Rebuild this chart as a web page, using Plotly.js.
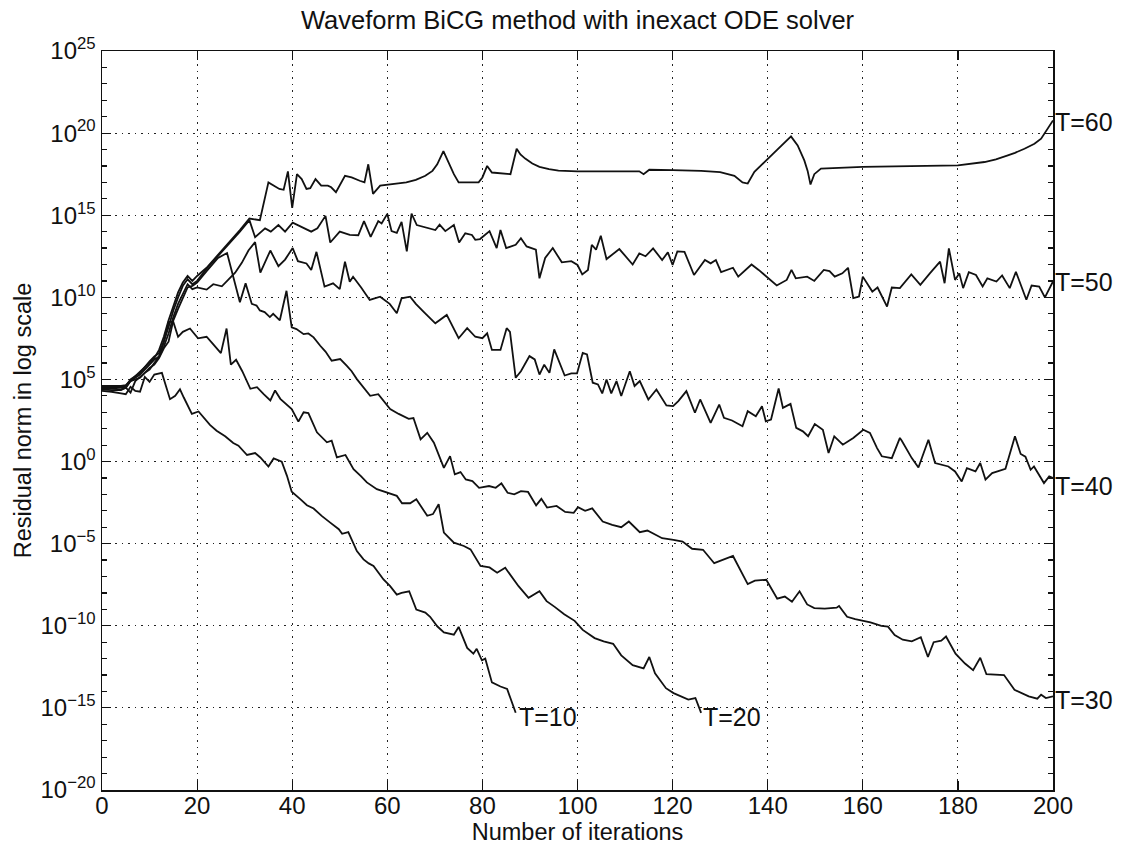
<!DOCTYPE html>
<html>
<head>
<meta charset="utf-8">
<script src="https://cdn.plot.ly/plotly-3.0.1.min.js"></script>
<style>html,body{margin:0;padding:0;background:#fff;}#chart{width:1123px;height:854px;}</style>
</head>
<body>
<div id="chart"></div>
<script>
// ---- data: iteration number (x) and log10 of residual norm (e) ----
const t10x = [0,2,4,5,6,7,8,9,10,11,12.6,13.5,14.3,15.4,16.4,17.2,18.9,20.3,21.3,22.7,24.1,25.9,27.6,28.7,30.5,32.2,33.3,35,36.1,37.8,38.9,39.9,41.7,43.1,44.5,46.2,48,49.8,50.5,51.8,53.6,55,56.1,57.1,59.2,60.6,62,63,64.6,66.1,68,69,70.5,71.9,74,75,76.8,78.1,78.8,79.9,80.6,82,83.8,85.2,87];
const t10e = [4.3,4.25,4.15,4.1,4.55,4.3,4.25,5.15,4.85,5.3,5.4,4.5,3.8,4.0,4.4,3.9,2.9,3.05,2.7,2.23,1.88,1.54,1.13,0.97,0.4,0.52,0.25,-0.3,0.19,-0.01,-0.87,-1.84,-2.29,-2.66,-2.86,-3.31,-3.72,-4.12,-4.4,-4.3,-5.45,-5.96,-6.2,-6.36,-7.18,-7.59,-8.1,-8.0,-7.9,-9.01,-9.2,-9.45,-10.03,-10.4,-10.54,-10.07,-11.35,-11.7,-11.4,-12.1,-12.0,-13.45,-13.7,-13.85,-15.3];

const t20x = [0,2,4,5,6,7,9,10,11,12,13,14,15,16,17,18.5,20.2,22,23.5,25,26.2,27.1,28.2,29.5,31.2,32.6,34,35.4,36.4,37.5,39.9,41.3,42.4,43.4,45.2,47.3,48.3,49.4,51.2,52.9,54.5,55.7,57.8,59.9,62,63.1,64.8,66.1,68.4,69.6,70.8,71.9,74,76.1,77.5,79.6,81.5,83.1,84.8,87.6,89.7,92,93.5,95.2,97.2,99.4,101.1,103.6,105.5,107.5,109.2,111.6,113.9,115.1,116.3,118.6,120.2,123.3,124.8,126];
const t20e = [4.4,4.35,4.35,4.5,4.2,4.9,5.4,5.6,6.0,6.4,7.3,8.5,8.5,7.6,7.9,8.1,7.5,7.6,7.1,6.6,8.1,5.9,6.2,5.5,4.43,4.53,4.1,3.72,4.33,3.82,3.2,2.43,3.0,2.95,1.78,1.17,1.27,0.25,0.4,-0.46,-0.9,-1.27,-1.68,-1.88,-2.09,-2.54,-2.54,-2.3,-3.3,-3.2,-2.6,-4.33,-4.94,-5.14,-5.35,-6.36,-6.45,-6.77,-6.47,-7.59,-8.3,-7.9,-8.5,-8.85,-9.3,-9.7,-10.25,-10.75,-10.95,-11.1,-11.8,-12.4,-12.6,-11.9,-12.9,-13.8,-14.1,-14.5,-14.4,-15.3];

const t30x = [0,2,4,5,6,8,10,11,12,13,14,15,16,17,18,19,20,22,24.4,26.3,27.5,29,30.2,31.5,32.5,33.2,34.2,35.3,36,37.4,38.8,39.9,40.9,42.4,43.4,44.5,45.9,47,48.3,50.1,51.5,52.5,53.6,55.3,56.4,58.1,59.3,60.6,62.4,64.5,65.5,67,68.4,69.8,71.9,73.2,74.2,75.4,76.5,77.9,79.3,81.4,82.8,84,85.3,86.7,88.1,89.6,91.3,92.4,93.6,95.6,97.4,99.2,100.1,101.6,103.1,105.3,107.3,109.2,110.8,113.1,114.7,117.8,120.2,122.1,124.1,126.4,128.75,131.1,132.7,135.8,137.3,139.7,142,143.6,145.1,146.7,148.3,149.8,152,154.5,155,156.7,158.4,161.6,163.9,165.3,166.7,168.4,170.3,172.2,173.7,174.9,176.5,177.5,179.5,181.5,183.2,184.7,186,189.7,191.9,194.9,196.7,197.5,198.5,200];
const t30e = [4.45,4.45,4.4,4.5,4.9,5.1,5.7,5.9,6.3,6.9,7.3,8.6,9.3,10.0,10.6,10.7,10.9,11.6,12.4,12.7,11.3,9.7,10.85,9.6,9.5,9.2,9.1,8.8,9.0,8.6,10.4,8.17,8.07,7.76,7.8,7.56,7.05,6.7,6.14,6.24,5.83,5.5,5.02,4.4,4.0,4.1,3.7,3.2,2.9,2.6,2.65,1.35,1.75,1.15,-0.38,0.33,-0.78,-0.64,-1.09,-1.19,-1.6,-1.49,-1.6,-1.33,-1.9,-2.0,-1.8,-1.85,-2.67,-2.27,-2.8,-2.7,-3.07,-3.12,-2.78,-3.0,-2.85,-3.65,-3.85,-4.0,-3.65,-4.3,-4.2,-4.67,-4.77,-4.87,-5.31,-5.37,-6.19,-5.9,-5.75,-7.46,-7.25,-7.2,-8.35,-8.22,-8.54,-7.9,-8.7,-8.92,-8.95,-8.9,-8.8,-9.45,-9.6,-9.8,-10.0,-10.05,-10.57,-10.85,-10.95,-10.7,-11.9,-11.0,-10.9,-10.65,-11.7,-12.3,-12.7,-11.95,-12.95,-13.0,-13.9,-14.3,-14.44,-14.2,-14.4,-14.3];

const t40x = [0,2,4,5,6,8,10,11,12,13,14,15,16,17,18,19,20,22,23.4,25.2,28,29.4,30.8,32.2,33.3,35.4,37.1,38.5,40.1,41.2,43,44,45.1,46.8,48.6,50,51.1,52.1,52.8,54.5,56.3,58.5,60.5,62,63,64.8,66,67.6,70.1,72.5,75,76.8,78.5,80,81,82,83.8,85.1,85.8,87,88.1,89.9,91,92,93,94.1,95.1,97.3,98.7,99.9,101.1,102,103.2,104.3,105.2,106.1,107.1,108.2,109.2,111,112,113.1,114.9,116.6,118.7,120.1,121.2,122.9,124.7,125.8,128,129.8,130.8,132.5,134.7,135.8,137.5,138.8,139.6,140.7,142.3,143.2,144.8,146,147.4,148.5,149.9,151.6,152.8,154,155.8,158,160.1,161.5,163,164,166.1,167.8,168.2,170.3,171.7,173.8,175.2,178,179.4,180.8,181.9,183.7,184.7,185.8,187.2,190,192,193.2,194.2,195.3,196,198.1,199.2,200];
const t40e = [4.5,4.55,4.5,4.5,4.9,5.3,5.9,6.2,6.4,7.0,7.8,8.8,9.6,10.2,10.8,10.5,10.6,10.47,10.8,10.67,11.5,12.1,12.85,13.36,11.5,12.85,11.9,12.3,13.0,12.2,12.06,11.66,12.77,10.65,10.85,10.5,12.17,10.95,11.25,10.6,9.84,10.04,9.6,9.03,9.94,10.04,9.6,9.13,8.42,8.93,7.51,8.12,7.6,7.51,7.81,6.8,6.8,8.12,7.9,5.1,5.5,6.42,6.22,5.3,5.9,5.4,6.83,5.24,5.37,5.37,6.62,6.52,4.8,4.7,4.15,5.0,4.15,4.9,3.99,5.5,4.6,4.9,3.78,4.39,3.42,3.38,3.68,4.29,2.97,3.78,2.35,3.47,2.66,2.5,2.15,3.07,2.76,3.37,2.45,2.56,4.45,3.27,3.51,2.05,1.84,1.54,2.29,1.94,0.52,1.54,1.03,1.44,1.94,1.74,0.82,0.32,0.21,1.44,1.27,0.21,-0.36,1.33,-0.09,-0.3,-0.6,-1.21,-0.4,-0.6,-0.09,-1.1,-0.7,-0.44,1.54,0.46,0.3,-0.5,-0.3,-1.31,-0.9,-1.0];

const t50x = [0,2,4,5,6,8,10,11,12,13,14,15,16,17,18,19,20,22,24.5,27,29,31,32.2,34.3,35.5,37.1,38.5,40.1,41.9,44,45.3,47,48,50,52.1,53.9,55.1,56.5,58.1,58.8,60,60.9,62,63,64.1,65.1,66.2,68.3,70.1,71,72.2,74,75.1,76.4,77.8,78.5,79.5,81.5,83,83.8,85,87,88.1,89.3,91.25,92,93.2,94.8,96.7,98.7,100,101,102.2,103,103.9,104.9,106.1,108.8,111.6,113,114.3,115.9,117.8,119,120,121,122.5,124.5,126.8,128,129.1,130.2,132.7,133.8,136.6,138.1,140.1,141.9,144,145,145.9,148.3,149.8,151.8,153,154.1,155.7,156.9,158,159.2,160,162,163.1,165.1,166.1,167.8,170.2,172.1,174.1,176.25,177.2,178.1,179.4,180.3,181.1,182.3,183.8,185.2,186.2,188.1,189.3,190.9,192.2,193.2,194.4,195.5,197.1,198.3,200];
const t50e = [4.55,4.6,4.55,4.6,5.0,5.4,6.1,6.4,6.6,7.3,8.2,9.2,10.0,10.7,11.1,10.8,11.0,11.75,12.55,13.35,14.0,14.7,13.66,14.2,14.0,14.4,14.0,14.55,14.3,14.0,14.2,14.96,13.34,14.0,13.8,13.78,14.64,13.68,14.64,14.5,15.08,14.03,13.93,14.6,12.8,15.1,14.4,14.23,14.1,14.43,14.03,14.4,13.34,13.9,13.8,13.5,13.55,14.03,13.0,14.1,13.0,13.2,13.6,13.1,12.9,11.16,12.4,13.0,12.13,12.2,11.97,11.4,11.67,13.2,12.9,13.75,12.33,12.94,12.0,12.67,12.5,12.98,12.27,12.74,11.97,12.8,12.77,11.36,12.27,12.07,12.27,11.53,11.8,11.26,12.0,11.67,11.16,10.72,11.06,11.67,11.16,11.26,11.0,11.67,11.6,11.26,11.46,11.8,9.95,10.05,11.26,10.35,10.6,9.44,10.6,10.56,11.4,10.76,11.46,12.17,10.86,12.98,11.06,11.46,10.56,11.53,11.36,10.66,11.16,10.96,11.33,10.56,11.56,10.76,9.85,10.72,10.66,10.0,10.97];

const t60x = [0,2,4,5,7,9,10,11,12,13,14,15,16,17,18,19,20,22,24.5,27,29,31,33.2,35,36.3,37.3,38.2,39.1,40,41,42,43,43.8,44.9,46.1,47.5,48.2,49.2,51.1,52.5,54.2,55.2,56,57,58.5,60,62,64,66,68,69.5,70.5,71.8,73.2,74,75,76.8,79.2,80,81,82,85.9,87.2,88,89,90.5,92,94,96,100,107.7,113,113.9,115.1,120,126,130,133,134.7,135.8,137.2,140,142.8,144.9,146.3,147.7,148.4,149,149.8,151.2,160,170,180,185.6,188,190.5,192,194,196.1,197.5,198.6,200];
const t60e = [4.6,4.6,4.6,4.65,5.2,5.7,6.0,6.3,6.8,7.6,8.6,9.4,10.3,10.9,11.3,11.0,11.3,11.8,12.6,13.4,14.1,14.8,14.7,17.0,16.8,16.6,16.55,17.67,15.45,17.5,17.2,16.6,16.65,17.2,16.8,16.8,16.7,16.4,17.4,17.3,17.1,17.0,18.1,16.3,16.8,16.85,16.9,17.0,17.15,17.4,17.7,18.1,18.9,18.0,17.5,17.0,17.0,17.0,17.3,18.0,17.6,17.5,19.05,18.7,18.45,18.15,17.95,17.8,17.72,17.67,17.67,17.67,17.5,17.77,17.75,17.7,17.62,17.4,17.0,16.93,17.64,18.44,19.25,19.8,19.25,18.34,17.7,16.87,17.5,17.84,17.94,17.98,18.04,18.24,18.4,18.65,18.8,19.05,19.35,19.66,20.16,20.77];

// curve labels: text, x position (iterations), y position (log10)
const labelText = ['T=10','T=20','T=30','T=40','T=50','T=60'];
const labelX    = [87.2, 126, 200, 200, 200, 200];
const labelE    = [-15.55, -15.55, -14.5, -1.5, 10.95, 20.65];

// axis ticks
const xTickVals = [0,20,40,60,80,100,120,140,160,180,200];
const yTickExp  = [-20,-15,-10,-5,0,5,10,15,20,25];

const toVal = arr => arr.map(e => Math.pow(10, e));
const lineStyle = {color:'#111', width:1.8};
const series = [[t10x,t10e],[t20x,t20e],[t30x,t30e],[t40x,t40e],[t50x,t50e],[t60x,t60e]];
const traces = series.map((s,i) => ({
  x: s[0], y: toVal(s[1]), type:'scatter', mode:'lines',
  line: lineStyle, name: labelText[i], hoverinfo:'skip'
}));

const font = 'Liberation Sans, Arial, Helvetica, sans-serif';
const annotations = labelText.map((t,i) => ({
  text: t, x: labelX[i], y: labelE[i], xref:'x', yref:'y',
  xanchor:'left', yanchor:'middle', showarrow:false, xshift: 0,
  font:{family:font, size:25, color:'#111'}
}));

const layout = {
  width:1123, height:854,
  margin:{l:102, r:70, t:51, b:64},
  paper_bgcolor:'white', plot_bgcolor:'white',
  showlegend:false,
  font:{family:font, size:24, color:'#111'},
  title:{text:'Waveform BiCG method with inexact ODE solver', font:{family:font, size:25.5, color:'#111'},
         x:0.5, xanchor:'center', xref:'paper', y:0.977, yref:'container', yanchor:'middle'},
  xaxis:{
    range:[0,200], tickmode:'array', tickvals:xTickVals, ticktext:xTickVals.map(String),
    ticks:'inside', ticklen:9, tickwidth:1.2, tickcolor:'#111',
    showline:true, mirror:'ticks', linecolor:'#111', linewidth:1.5,
    showgrid:true, gridcolor:'#222', gridwidth:1, griddash:'1.5px,5px',
    zeroline:false, tickfont:{family:font, size:24, color:'#111'}, ticklabelstandoff:-6,
    title:{text:'Number of iterations', font:{family:font, size:23.5, color:'#111'}, standoff:0}
  },
  yaxis:{
    type:'log', range:[-20,25], tickmode:'array',
    tickvals: yTickExp.map(e => Math.pow(10,e)),
    ticktext: yTickExp.map(e => '10<sup>' + (e<0 ? '\u2212' + (-e) : e) + '</sup>'),
    ticks:'inside', ticklen:9, tickwidth:1.2, tickcolor:'#111',
    minor:{tickmode:'linear', tick0:0, dtick:1, ticks:'inside', ticklen:5, tickcolor:'#111', showgrid:false},
    showline:true, mirror:'ticks', linecolor:'#111', linewidth:1.5,
    showgrid:true, gridcolor:'#222', gridwidth:1, griddash:'1.5px,5px',
    zeroline:false, tickfont:{family:font, size:24, color:'#111'},
    title:{text:'Residual norm in log scale', font:{family:font, size:23.5, color:'#111'}, standoff:2}
  },
  annotations: annotations
};

Plotly.newPlot('chart', traces, layout, {staticPlot:true, displayModeBar:false});
</script>
</body>
</html>
